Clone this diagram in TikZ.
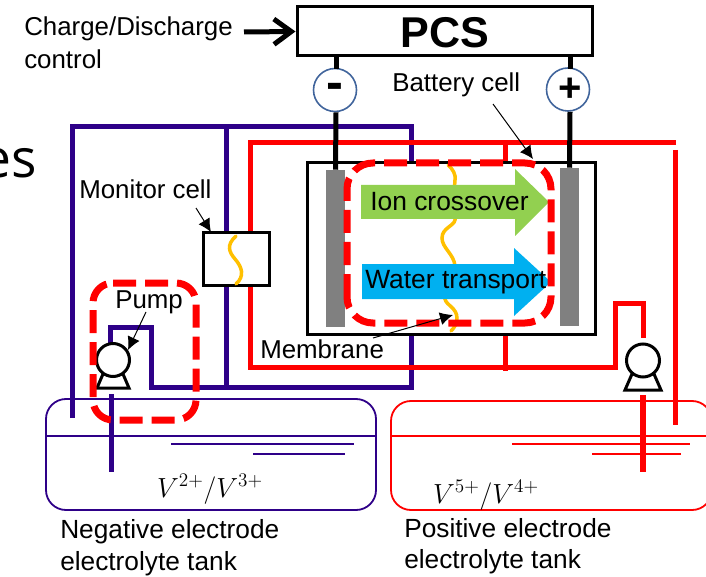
\documentclass[tikz,border=0pt]{standalone}
\usepackage{fontspec}
\setmainfont{Liberation Sans}
\newfontfamily\esfont{Open Sans}
\usetikzlibrary{arrows.meta}
\newlength\pxu \setlength\pxu{0.75pt}
\definecolor{dkblue}{HTML}{2E0088}
\definecolor{rimblue}{HTML}{41659C}
\definecolor{ionG}{HTML}{92D050}
\definecolor{watB}{HTML}{00B0F0}
\definecolor{memY}{HTML}{FFC000}
\tikzset{
  x=0.75pt,y=-0.75pt,
  lbl/.style={anchor=base west,inner sep=0pt,font=\fontsize{19.4pt}{23pt}\selectfont},
  lblw/.style={anchor=base west,inner sep=0pt,font=\fontsize{19.7pt}{23pt}\selectfont},
  bluepipe/.style={draw=dkblue,line width=5\pxu,line join=miter},
  redpipe/.style={draw=red,line width=5\pxu,line join=miter},
  wire/.style={draw=black,line width=5\pxu},
  box/.style={draw=black,line width=3\pxu,fill=white,inner sep=0pt},
  memb/.style={draw=memY,line width=3.5\pxu,line cap=round},
  pointer/.style={draw=black,line width=1\pxu,-{Latex[length=9.75pt,width=9.75pt]}},
  hazard/.style={draw=red,line width=7\pxu,dash pattern=on 23\pxu off 9\pxu},
  terminal/.style={circle,draw=rimblue,line width=1.6\pxu,fill=white,minimum size=43\pxu,inner sep=0pt},
  pumpc/.style={circle,draw=black,line width=3\pxu,fill=white,minimum size=33\pxu,inner sep=0pt},
  pumpb/.style={draw=black,line width=3\pxu,fill=white,line join=miter},
  tank/.style={line width=1.8\pxu,rounded corners=20\pxu},
  level/.style={line width=1.8\pxu}
}
\begin{document}
\begin{tikzpicture}
\useasboundingbox (0,0) rectangle (706,577);
\begin{scope}
\clip (0,0) rectangle (706,577);

% big clipped text
\node[anchor=base east,inner sep=0pt,font=\esfont\fontsize{40pt}{44pt}\selectfont] (es) at (37,178) {es};

% tanks
\draw[dkblue,tank] (46,399) rectangle (376,510);
\coordinate (nl) at (46,436); \coordinate (nr) at (376,436);
\draw[dkblue,level] (nl) -- (nr);
\coordinate (na1) at (171,444); \coordinate (na2) at (354,444);
\coordinate (nb1) at (253,454); \coordinate (nb2) at (345,454);
\draw[dkblue,level] (na1) -- (na2);
\draw[dkblue,level] (nb1) -- (nb2);
\draw[red,tank] (391,401) rectangle (712,510);
\coordinate (pl) at (391,436); \coordinate (pr) at (706,436);
\draw[red,level] (pl) -- (pr);
\coordinate (pa1) at (512,444); \coordinate (pa2) at (690,444);
\coordinate (pb1) at (592,454); \coordinate (pb2) at (681,454);
\draw[red,level] (pa1) -- (pa2);
\draw[red,level] (pb1) -- (pb2);

% PCS and terminals
\node[box,minimum width=295\pxu,minimum height=49\pxu] (pcs) at (444.5,31.5) {};
\node[anchor=base,inner sep=0pt,font=\bfseries\fontsize{32.3pt}{36pt}\selectfont] (pcst) at (445,48) {PCS};
\node[terminal] (minus) at (335,90) {};
\node[terminal] (plus) at (568,89.5) {};

% negative circuit
\coordinate (b1) at (72,418); \coordinate (b2) at (72,127); \coordinate (b3) at (411,127);
\coordinate (b4) at (411,387); \coordinate (b5) at (151,387); \coordinate (b6) at (151,327);
\coordinate (b7) at (110,327); \coordinate (b8) at (110,345);
\coordinate (b9) at (226,127); \coordinate (b10) at (226,387);
\draw[bluepipe] (b1) -- (b2) -- (b3) -- (b4) -- (b5) -- (b6) -- (b7) -- (b8);
\draw[bluepipe] (b9) -- (b10);
% positive circuit
\coordinate (r1) at (676,143); \coordinate (r2) at (250,143); \coordinate (r3) at (250,367);
\coordinate (r4) at (615,367); \coordinate (r5) at (615,303); \coordinate (r6) at (643,303);
\coordinate (r7) at (643,338); \coordinate (r8) at (675,150); \coordinate (r9) at (675,425);
\coordinate (r10) at (505,143); \coordinate (r11) at (505,371);
\draw[redpipe] (r1) -- (r2) -- (r3) -- (r4) -- (r5) -- (r6) -- (r7);
\draw[redpipe] (r8) -- (r9);
\draw[redpipe] (r10) -- (r11);

% battery cell
\node[box,minimum width=288\pxu,minimum height=171\pxu] (cell) at (451,248.5) {};
\draw[wire] (pcs.south -| minus) ++(1,0) -- ++(0,12);
\draw[wire] (pcs.south -| plus) ++(2,0) -- ++(0,12);
\node[inner sep=0pt,minimum width=19\pxu,minimum height=157\pxu,fill=gray] (eleft) at (335.5,248.5) {};
\node[inner sep=0pt,minimum width=19\pxu,minimum height=158\pxu,fill=gray] (eright) at (569.5,247) {};
\draw[wire] (minus.south) ++(1,0) -- (eleft.north);
\draw[wire] (plus.south) ++(2,0) -- (eright.north);
\node[inner sep=0pt,font=\bfseries\fontsize{38pt}{40pt}\selectfont,text height=24\pxu,text depth=0pt] (minust) at (335,88) {-};
\node[inner sep=0pt,font=\bfseries\fontsize{30pt}{36pt}\selectfont,text height=24\pxu,text depth=0pt] (plust) at (570,90) {+};

% membrane
\draw[memb] (448,165) .. controls (453,169) and (456,175) .. (455,180) .. controls (454,186) and (456,200) .. (455,220)
  .. controls (454,226) and (442,228) .. (442,238) .. controls (442,248) and (454,254) .. (455,266)
  .. controls (455,280) and (446,290) .. (445,299) .. controls (446,305) and (457,308) .. (457,318)
  .. controls (457,324) and (454,328) .. (451,331);

% flow arrows
\fill[ionG] (361,185) -- (515,185) -- (515,169) -- (549,202) -- (515,236) -- (515,219) -- (361,219) -- cycle;
\fill[watB] (362,264) -- (514,264) -- (514,248) -- (551,282) -- (514,316) -- (514,299) -- (362,299) -- cycle;
\node[lbl,font=\fontsize{19.8pt}{25pt}\selectfont] (ion) at (370,211) {Ion crossover};
\node[lbl,font=\fontsize{19.8pt}{25pt}\selectfont] (wat) at (365,288) {Water transport};

% monitor cell
\node[box,minimum width=66\pxu,minimum height=52\pxu] (mon) at (236,259) {};
\draw[memb] (236,236) .. controls (226,245) and (229,252) .. (235,259) .. controls (242,267) and (245,276) .. (236,284);

% pumps
\coordinate (pa) at (97,388); \coordinate (pbb) at (129,388); \coordinate (pc) at (123,374); \coordinate (pd) at (103,374);
\draw[pumpb] (pa) -- (pbb) -- (pc) -- (pd) -- cycle;
\node[pumpc] (pump1) at (113,360) {};
\coordinate (qa) at (625,390); \coordinate (qb) at (661,390); \coordinate (qc) at (654,374); \coordinate (qd) at (632,374);
\draw[pumpb] (qa) -- (qb) -- (qc) -- (qd) -- cycle;
\node[pumpc] (pump2) at (643,360.5) {};
\coordinate (s1) at (111,394); \coordinate (s2) at (111,472);
\draw[bluepipe] (s1) -- (s2);
\coordinate (t1) at (643,395); \coordinate (t2) at (643,472);
\draw[redpipe,line width=6\pxu] (t1) -- (t2);

% hazard frames
\draw[hazard,rounded corners=26\pxu] (347,323) -- (347,163) -- (551,163) -- (551,323) -- cycle;
\draw[hazard,rounded corners=20\pxu] (93,283) -- (196,283) -- (196,420) -- (93,420) -- cycle;

% labels
\node[lbl] (chg) at (24,36) {Charge/Discharge};
\node[lbl] (ctl) at (24,69) {control};
\coordinate (chs) at (244,32);
\draw[line width=5\pxu,-{Straight Barb[length=13pt,width=19pt]}] (chs) -- (pcs.west);
\node[lbl] (batl) at (392,92) {Battery cell};
\coordinate (bats) at (493,104); \coordinate (batt) at (533,159);
\draw[pointer] (bats) -- (batt);
\node[lbl] (monl) at (79,199) {Monitor cell};
\coordinate (mons) at (196,208); \coordinate (mont) at (211,232);
\draw[pointer] (mons) -- (mont);
\node[lbl] (pumpl) at (115,308) {Pump};
\coordinate (pums) at (146,312); \coordinate (pumt) at (128,350);
\draw[pointer] (pums) -- (pumt);
\node[lbl] (meml) at (260,358) {Membrane};
\coordinate (mems) at (373,338); \coordinate (memt) at (453,315);
\draw[pointer] (mems) -- (memt);
\node[anchor=base,inner sep=0pt,font=\fontsize{20.5pt}{24pt}\selectfont] (vneg) at (210,497) {$V^{2+}/V^{3+}$};
\node[anchor=base,inner sep=0pt,font=\fontsize{20.5pt}{24pt}\selectfont] (vpos) at (486,503) {$V^{5+}/V^{4+}$};
\node[lblw] (negl1) at (60,538) {Negative electrode};
\node[lblw] (negl2) at (60,570) {electrolyte tank};
\node[lblw] (posl1) at (404,537) {Positive electrode};
\node[lblw] (posl2) at (404,568) {electrolyte tank};
\end{scope}
\end{tikzpicture}
\end{document}
